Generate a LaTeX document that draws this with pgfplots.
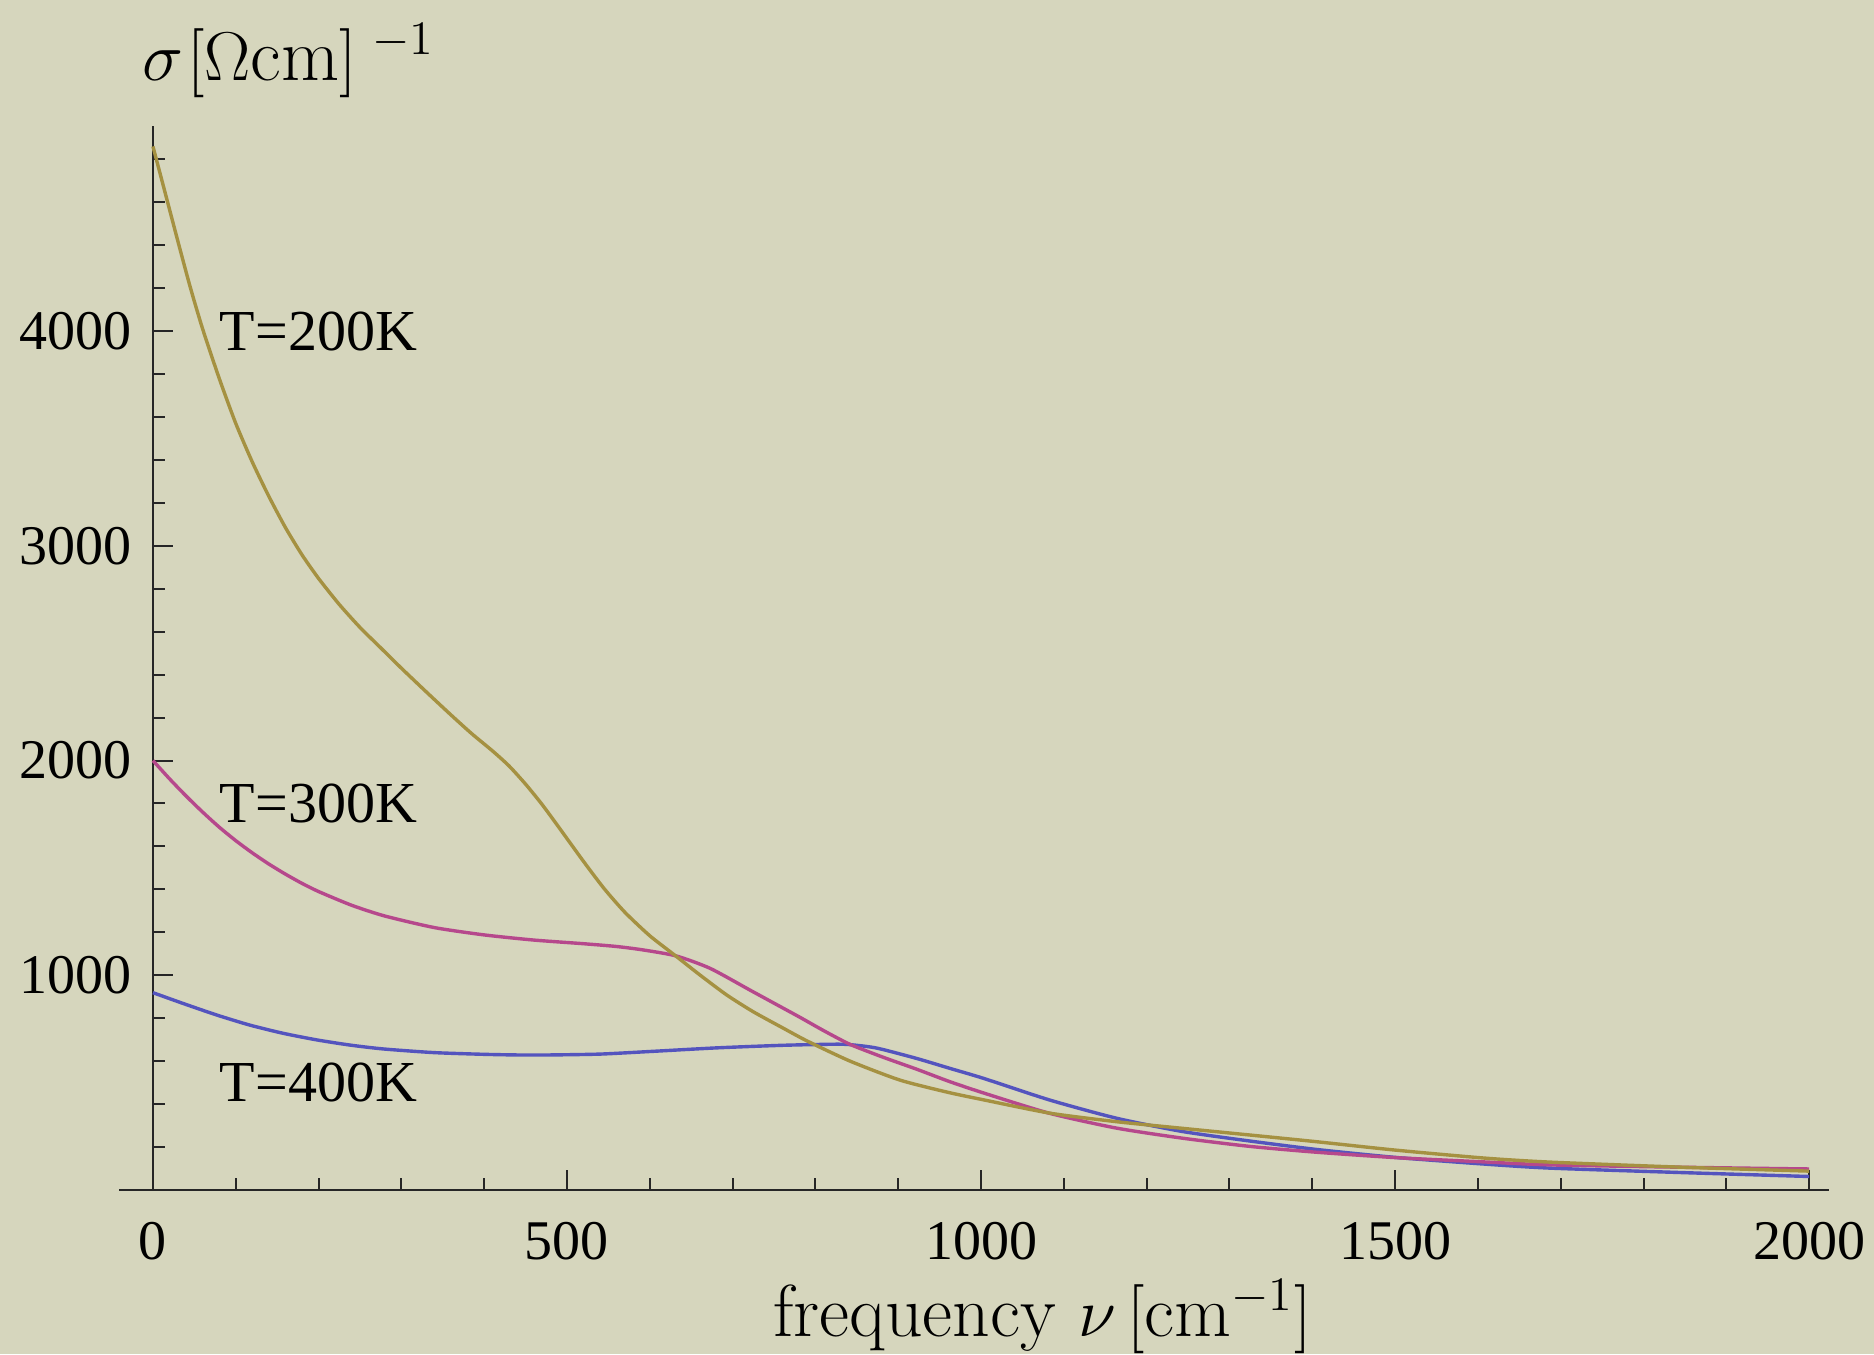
\documentclass[border=0pt]{standalone}
\usepackage{fontspec}
\newfontfamily\timesfont{Liberation Serif}
\usepackage{pgfplots}
\pgfplotsset{compat=1.18}
\definecolor{bg}{RGB}{214,214,189}
\definecolor{cgold}{RGB}{165,145,65}
\definecolor{cpink}{RGB}{182,72,140}
\definecolor{cblue}{RGB}{84,84,190}
\begin{document}
\begin{tikzpicture}
\path[use as bounding box, fill=bg] (-29.75pt,-41pt) rectangle (438.75pt,297.5pt);
\begin{axis}[
  at={(0,0)}, anchor=south west,
  scale only axis, width=427.5pt, height=266pt,
  xmin=-41, xmax=2024, ymin=0, ymax=4955,
  axis x line*=bottom, axis y line*=center,
  x axis line style={-}, y axis line style={-},
  axis line style={line width=0.5pt, black!85},
  xtick={0,500,1000,1500,2000},
  ytick={1000,2000,3000,4000},
  minor xtick={100,200,...,1900},
  minor ytick={200,400,...,4800},
  tick align=inside,
  major tick length=5pt, minor tick length=3pt,
  tick style={line width=0.5pt, black!85},
  hide obscured x ticks=false,
  /pgf/number format/assume math mode=true,
  /pgf/number format/1000 sep={},
  ticklabel style={font=\timesfont\fontsize{14}{16}\selectfont, inner sep=0pt},
  xticklabel style={anchor=north, yshift=-7.75pt},
  yticklabel style={anchor=east, xshift=-5.25pt},
  every axis x label/.style={at={(axis description cs:0.540,0)}, anchor=base, yshift=-36.5pt, inner sep=0pt, font=\fontsize{18.4}{21}\selectfont},
  every axis y label/.style={at={(axis description cs:0,1)}, anchor=base west, xshift=5.7pt, yshift=11.5pt, inner sep=0pt, font=\fontsize{18.8}{22}\selectfont},
  xlabel={frequency $\nu\,[\mathrm{cm}^{-1}]$},
  ylabel={$\sigma\mkern1mu[\Omega\mathrm{cm}]^{\kern4pt -1}$},
]
\addplot[cblue, line width=0.85pt, smooth, tension=0.4] coordinates {
(0,919) (37,868) (77,815) (117,768) (157,730) (198,699) (238,675) (278,657)
(339,640) (399,632) (439,629) (480,629) (540,633) (600,645) (681,662) (761,674)
(822,679) (842,677) (874,661) (922,613) (962,567) (1003,520) (1083,419) (1164,334) (1244,272)
(1325,228) (1405,189) (1500,152) (1607,121) (1687,102) (1848,81) (2000,63)};
\addplot[cpink, line width=0.85pt, smooth, tension=0.4] coordinates {
(0,2000) (20,1915) (40,1835) (60,1760) (80,1690) (100,1627) (120,1570) (140,1518)
(160,1471) (180,1428) (200,1390) (240,1326) (280,1276) (340,1222) (400,1188)
(460,1164) (520,1147) (560,1134) (592,1118) (632,1090) (673,1032) (721,931)
(751,868) (781,805) (811,740) (842,678) (882,618) (922,563) (962,505) (1003,452)
(1083,357) (1164,288) (1244,241) (1325,203) (1405,176) (1500,151) (1607,131)
(1687,117) (1848,106) (2000,98)};
\addplot[cgold, line width=0.85pt, smooth, tension=0.4] coordinates {
(0,4860) (15,4640) (30,4420) (45,4205) (60,4010) (80,3780) (100,3570) (120,3390)
(140,3230) (160,3085) (180,2958) (200,2848) (225,2727) (250,2620) (275,2525)
(300,2430) (330,2320) (360,2212) (385,2125) (410,2045) (430,1975) (450,1890)
(470,1795) (490,1690) (520,1530) (545,1403) (570,1293) (600,1184) (632,1088)
(660,1003) (693,908) (725,830) (761,754) (790,694) (842,600) (902,512) (960,455)
(1003,420) (1083,358) (1164,318) (1244,287) (1325,256) (1405,225) (1500,186)
(1607,149) (1687,130) (1848,106) (2000,88)};
\node[font=\timesfont\fontsize{14.5}{17}\selectfont, anchor=west, inner sep=0pt] at (axis cs:80,4000) {T=200K};
\node[font=\timesfont\fontsize{14.5}{17}\selectfont, anchor=west, inner sep=0pt] at (axis cs:80,1800) {T=300K};
\node[font=\timesfont\fontsize{14.5}{17}\selectfont, anchor=west, inner sep=0pt] at (axis cs:80,500) {T=400K};
\end{axis}
\end{tikzpicture}
\end{document}
